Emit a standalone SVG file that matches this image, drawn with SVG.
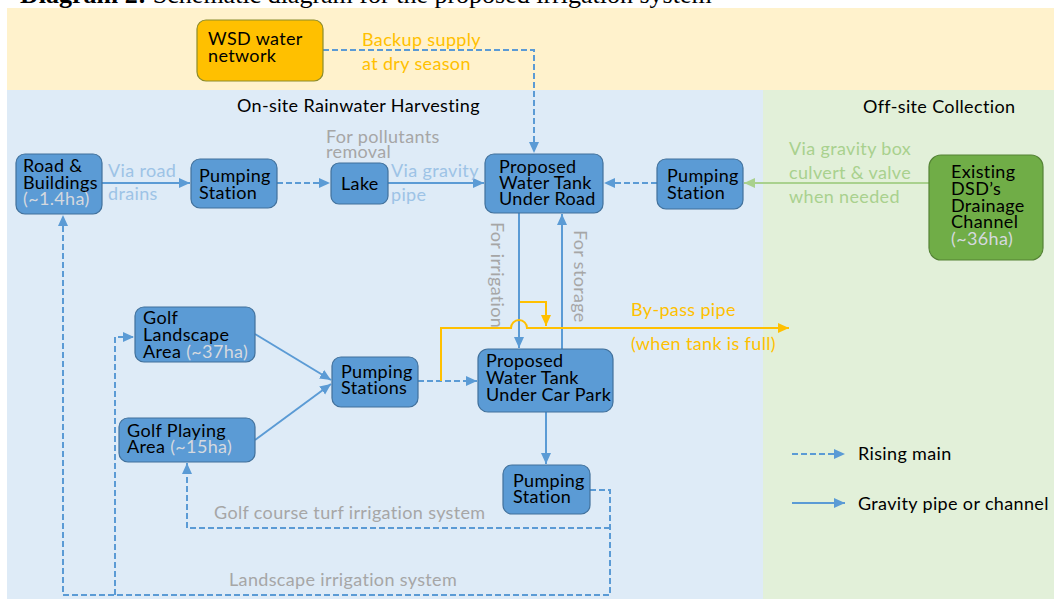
<svg xmlns="http://www.w3.org/2000/svg" width="1054" height="599" viewBox="0 0 1054 599">
<style>
.t{font-family:Lato,"Open Sans","Liberation Sans",sans-serif;font-size:18px;letter-spacing:0.35px;fill:#000}
.sub{fill:#D5D9DF}
.gray{fill:#A6A6A6}
.lb{fill:#9DC3E6}
.lg{fill:#A9D18E}
.or{fill:#FFC000}
.node{fill:#5B9BD5;stroke:#41719C;stroke-width:1.2}
.ln{fill:none;stroke:#5B9BD5;stroke-width:2}
.dash{stroke-dasharray:6 3}
.orl{fill:none;stroke:#FFC000;stroke-width:2}
</style>
<defs>
<marker id="ab" markerUnits="userSpaceOnUse" markerWidth="12" markerHeight="12" refX="11" refY="6" orient="auto"><path d="M0,1 L11,6 L0,11 z" fill="#5B9BD5"/></marker>
<marker id="ao" markerUnits="userSpaceOnUse" markerWidth="12" markerHeight="12" refX="11" refY="6" orient="auto"><path d="M0,1 L11,6 L0,11 z" fill="#FFC000"/></marker>
<marker id="ag" markerUnits="userSpaceOnUse" markerWidth="12" markerHeight="12" refX="11" refY="6" orient="auto"><path d="M0,1 L11,6 L0,11 z" fill="#A9D18E"/></marker>
</defs>
<rect x="0" y="0" width="1054" height="599" fill="#fff"/>
<text x="20" y="3" font-family="'Liberation Serif',serif" font-size="26" fill="#000"><tspan font-weight="bold">Diagram 2:</tspan> Schematic diagram for the proposed irrigation system</text>
<g id="backgrounds">
<rect x="7" y="8" width="1047" height="82" fill="#FFF2CC"/>
<rect x="7" y="90" width="756" height="509" fill="#DEEBF7"/>
<rect x="763" y="90" width="291" height="509" fill="#E2F0D9"/>
<text class="t" x="237" y="112">On-site Rainwater Harvesting</text>
<text class="t" x="863" y="113">Off-site Collection</text>
</g>
<g id="connectors">
<path class="ln dash" d="M323,50 H534 V153" marker-end="url(#ab)"/>
<path class="ln" d="M102,183 H190" marker-end="url(#ab)"/>
<path class="ln dash" d="M277,183 H330" marker-end="url(#ab)"/>
<path class="ln" d="M388,183 H484" marker-end="url(#ab)"/>
<path class="ln dash" d="M657,183 H604" marker-end="url(#ab)"/>
<path fill="none" stroke="#A9D18E" stroke-width="2" d="M929,183 H744" marker-end="url(#ag)"/>
<path class="ln" d="M519,213 V348" marker-end="url(#ab)"/>
<path class="ln" d="M562,349 V214" marker-end="url(#ab)"/>
<path class="ln" d="M255,334 L331,380" marker-end="url(#ab)"/>
<path class="ln" d="M255,440 L331,384" marker-end="url(#ab)"/>
<path class="ln dash" d="M418,381 H477" marker-end="url(#ab)"/>
<path class="ln" d="M546,412 V464" marker-end="url(#ab)"/>
<path class="ln dash" d="M590,490 H610 V595 H63 V215" marker-end="url(#ab)"/>
<path class="ln dash" d="M610,528 H187 V463" marker-end="url(#ab)"/>
<path class="ln dash" d="M115,595 V337 H134" marker-end="url(#ab)"/>
<path class="orl" d="M441,381 V328 H511 A8,8 0 0 1 527,328 H789" marker-end="url(#ao)"/>
<path class="orl" d="M520,302 H546 V326" marker-end="url(#ao)"/>
<path class="ln dash" d="M792,454 H845" marker-end="url(#ab)"/>
<path class="ln" d="M792,503 H845" marker-end="url(#ab)"/>
</g>
<g id="labels">
<text class="t or" x="362" y="46">Backup supply</text>
<text class="t or" x="362" y="70">at dry season</text>
<text class="t gray" x="326" y="143">For pollutants</text>
<text class="t gray" x="326" y="158">removal</text>
<text class="t lb" x="108" y="177">Via road</text>
<text class="t lb" x="108" y="200">drains</text>
<text class="t lb" x="391" y="177">Via gravity</text>
<text class="t lb" x="391" y="201">pipe</text>
<text class="t lg" x="789" y="155">Via gravity box</text>
<text class="t lg" x="789" y="179">culvert &amp; valve</text>
<text class="t lg" x="789" y="203">when needed</text>
<text class="t gray" transform="translate(491,222) rotate(90)">For irrigation</text>
<text class="t gray" transform="translate(574,230) rotate(90)">For storage</text>
<text class="t or" x="631" y="316">By-pass pipe</text>
<text class="t or" x="631" y="350">(when tank is full)</text>
<text class="t gray" x="214" y="519">Golf course turf irrigation system</text>
<text class="t gray" x="229" y="586">Landscape irrigation system</text>
<text class="t" x="858" y="460">Rising main</text>
<text class="t" x="858" y="510">Gravity pipe or channel</text>
</g>
<g id="wsd">
<rect x="197" y="20" width="126" height="61" rx="9" fill="#FFC000" stroke="#8C8C2C" stroke-width="1.2"/>
<text class="t" x="208" y="45">WSD water</text>
<text class="t" x="208" y="62">network</text>
</g>
<g id="road">
<rect class="node" x="16" y="154" width="86" height="60" rx="9"/>
<text class="t" x="23" y="172">Road &amp;</text>
<text class="t" x="23" y="189">Buildings</text>
<text class="t sub" x="23" y="205">(~1.4ha)</text>
</g>
<g id="ps1">
<rect class="node" x="191" y="159" width="86" height="49" rx="9"/>
<text class="t" x="199" y="182">Pumping</text>
<text class="t" x="199" y="199">Station</text>
</g>
<g id="lake">
<rect class="node" x="331" y="163" width="57" height="41" rx="8"/>
<text class="t" x="341" y="190">Lake</text>
</g>
<g id="tankroad">
<rect class="node" x="485" y="154" width="118" height="59" rx="9"/>
<text class="t" x="499" y="173">Proposed</text>
<text class="t" x="499" y="189">Water Tank</text>
<text class="t" x="499" y="205">Under Road</text>
</g>
<g id="ps2">
<rect class="node" x="657" y="159" width="86" height="50" rx="9"/>
<text class="t" x="667" y="182">Pumping</text>
<text class="t" x="667" y="199">Station</text>
</g>
<g id="dsd">
<rect x="929" y="155" width="114" height="105" rx="12" fill="#70AD47" stroke="#548235" stroke-width="1.2"/>
<text class="t" x="951" y="178">Existing</text>
<text class="t" x="951" y="195">DSD’s</text>
<text class="t" x="951" y="212">Drainage</text>
<text class="t" x="951" y="228">Channel</text>
<text class="t sub" x="951" y="245">(~36ha)</text>
</g>
<g id="golflandscape">
<rect class="node" x="135" y="307" width="120" height="55" rx="9"/>
<text class="t" x="143" y="324">Golf</text>
<text class="t" x="143" y="341">Landscape</text>
<text class="t" x="143" y="358">Area <tspan class="sub">(~37ha)</tspan></text>
</g>
<g id="golfplaying">
<rect class="node" x="119" y="418" width="136" height="44" rx="9"/>
<text class="t" x="127" y="437">Golf Playing</text>
<text class="t" x="127" y="453">Area <tspan class="sub">(~15ha)</tspan></text>
</g>
<g id="pss">
<rect class="node" x="332" y="357" width="86" height="50" rx="9"/>
<text class="t" x="341" y="378">Pumping</text>
<text class="t" x="341" y="394">Stations</text>
</g>
<g id="tankcarpark">
<rect class="node" x="478" y="349" width="135" height="63" rx="10"/>
<text class="t" x="486" y="367">Proposed</text>
<text class="t" x="486" y="384">Water Tank</text>
<text class="t" x="486" y="401">Under Car Park</text>
</g>
<g id="ps3">
<rect class="node" x="503" y="465" width="87" height="49" rx="9"/>
<text class="t" x="513" y="487">Pumping</text>
<text class="t" x="513" y="503">Station</text>
</g>
</svg>
